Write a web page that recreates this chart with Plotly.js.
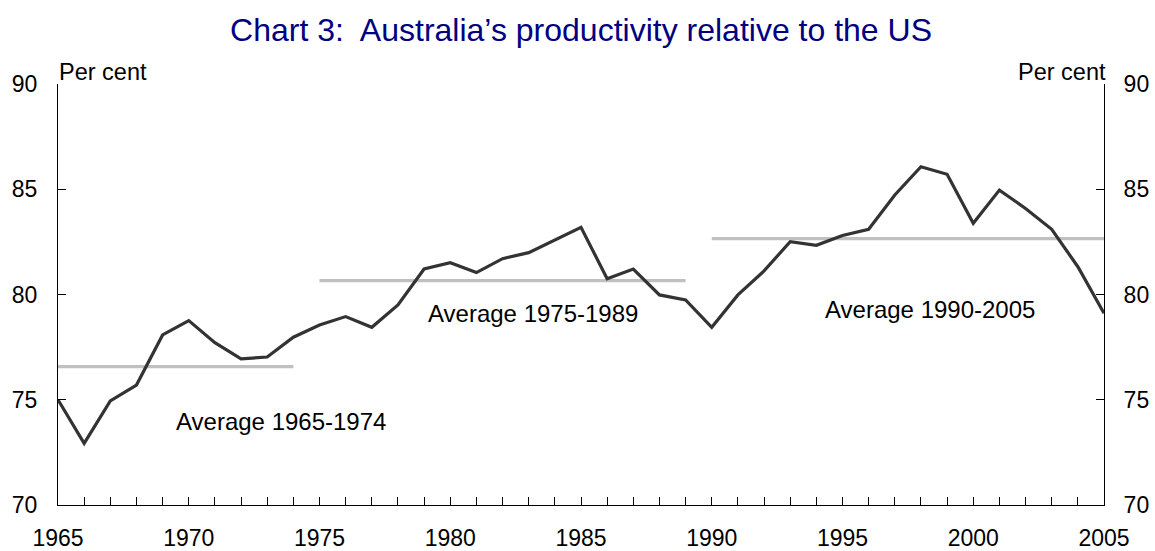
<!DOCTYPE html>
<html>
<head>
<meta charset="utf-8">
<script src="https://cdn.plot.ly/plotly-3.0.1.min.js"></script>
<style>html,body{margin:0;padding:0;background:#fff;}#chart{width:1155px;height:551px;}</style>
</head>
<body>
<div id="chart"></div>
<script>
const years = [1965,1966,1967,1968,1969,1970,1971,1972,1973,1974,1975,1976,1977,1978,1979,1980,1981,1982,1983,1984,1985,1986,1987,1988,1989,1990,1991,1992,1993,1994,1995,1996,1997,1998,1999,2000,2001,2002,2003,2004,2005];
const productivity = [75.0,72.93,74.95,75.70,78.08,78.76,77.71,76.94,77.03,77.97,78.55,78.95,78.44,79.50,81.21,81.51,81.04,81.70,81.99,82.59,83.19,80.75,81.21,79.98,79.74,78.44,79.98,81.12,82.51,82.34,82.80,83.10,84.73,86.07,85.71,83.38,84.96,84.09,83.10,81.32,79.11];
const avgPeriods = [[1965,1974],[1975,1989],[1990,2005]];
const avgValues = [76.57,80.66,82.65];
const avgLabels = ['Average 1965-1974','Average 1975-1989','Average 1990-2005'];
const labelX = [1973.52,1983.15,1998.35];
const labelY = [73.96,79.11,79.30];

const FONT = 'Liberation Sans, Arial, sans-serif';
const traces = [];
avgPeriods.forEach((p,i)=>{
  traces.push({x:[p[0],p[1]], y:[avgValues[i],avgValues[i]], mode:'lines', line:{color:'#c0c0c0', width:3.2}, hoverinfo:'skip', showlegend:false});
});
traces.push({x:years, y:productivity, mode:'lines', line:{color:'#333333', width:3.2}, showlegend:false});
traces.push({x:[years[0]], y:[70], yaxis:'y2', mode:'markers', marker:{opacity:0}, showlegend:false, hoverinfo:'skip'});

const annotations = avgLabels.map((t,i)=>({x:labelX[i], y:labelY[i], xref:'x', yref:'y', text:t, showarrow:false, font:{family:FONT, size:24, color:'#000'}}));
annotations.push({x:0, y:1, xref:'paper', yref:'paper', xanchor:'left', yanchor:'bottom', text:'Per cent', showarrow:false, font:{family:FONT, size:23.5, color:'#000'}, xshift:-1, yshift:-3});
annotations.push({x:1, y:1, xref:'paper', yref:'paper', xanchor:'right', yanchor:'bottom', text:'Per cent', showarrow:false, font:{family:FONT, size:23.5, color:'#000'}, xshift:4, yshift:-3});

const layout = {
  width:1155, height:551,
  margin:{l:58, r:51, t:84, b:46},
  paper_bgcolor:'#fff', plot_bgcolor:'#fff',
  title:{text:'Chart 3:\u00a0 Australia\u2019s productivity relative to the US', font:{family:FONT, size:32, color:'#000080'}, x:0.5, xanchor:'center', y:1-30/551, yanchor:'middle', xref:'paper'},
  xaxis:{range:[1965,2005], tickmode:'linear', tick0:1965, dtick:5, ticks:'inside', ticklen:8, tickcolor:'#000', showline:true, linecolor:'#000', linewidth:1, showgrid:false, zeroline:false, tickfont:{family:FONT, size:23, color:'#000'}, ticklabelstandoff:12, minor:{dtick:1, ticks:'inside', ticklen:8, tickcolor:'#000', showgrid:false}},
  yaxis:{range:[70,90], tickmode:'linear', tick0:70, dtick:5, ticks:'inside', ticklen:8, tickcolor:'#000', showline:true, linecolor:'#000', linewidth:1, showgrid:false, zeroline:false, tickfont:{family:FONT, size:23, color:'#000'}, ticklabelstandoff:15},
  yaxis2:{range:[70,90], overlaying:'y', side:'right', tickmode:'linear', tick0:70, dtick:5, ticks:'inside', ticklen:8, tickcolor:'#000', showline:true, linecolor:'#000', linewidth:1, showgrid:false, zeroline:false, tickfont:{family:FONT, size:23, color:'#000'}, ticklabelstandoff:14},
  annotations:annotations,
  showlegend:false
};
Plotly.newPlot('chart', traces, layout, {displayModeBar:false, staticPlot:true});
</script>
</body>
</html>
